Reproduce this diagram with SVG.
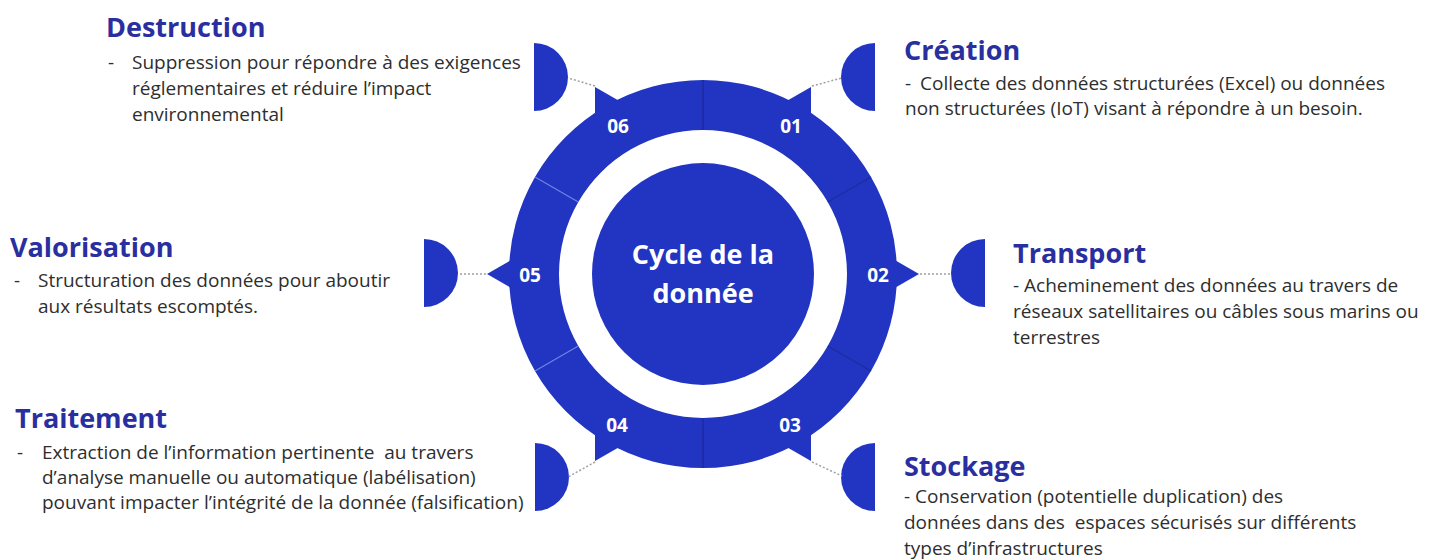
<svg xmlns="http://www.w3.org/2000/svg" width="1435" height="560" viewBox="0 0 1435 560">
  <style>
    .blue { fill: #2135c2; }
    .num { font-family: "Open Sans", "Liberation Sans", sans-serif; font-weight: 700; font-size: 19px; fill: #ffffff; text-anchor: middle; }
    .core { font-family: "Open Sans", "Liberation Sans", sans-serif; font-weight: 700; font-size: 27px; fill: #ffffff; text-anchor: middle; }
    .head { font-family: "Open Sans", "Liberation Sans", sans-serif; font-weight: 700; font-size: 27px; fill: #2a2f9f; }
    .body { font-family: "Open Sans", "Liberation Sans", sans-serif; font-size: 19px; fill: #2e2e2e; }
    .dots { stroke: #a0a0a0; stroke-width: 1.5; stroke-dasharray: 2 2; fill: none; }
    .div-dark { stroke: #1b2898; stroke-width: 1.2; }
    .div-light { stroke: #6f7ee0; stroke-width: 1.2; }
  </style>

  <rect width="1435" height="560" fill="#ffffff"/>

  <!-- central disc -->
  <g id="core">
    <circle cx="703" cy="274" r="111" class="blue"/>
    <text class="core" x="703" y="264">Cycle de la</text>
    <text class="core" x="703" y="303">donnée</text>
  </g>

  <!-- 01 Création -->
  <g id="stage-01">
    <path class="blue" d="M703,80 A194,194 0 0,1 871.01,177 L827.71,202 A144,144 0 0,0 703,130 Z"/>
    <polygon class="blue" points="811,86.9 811,133.1 771,109.9"/>
    <text class="num" x="791" y="133">01</text>
    <path class="blue" d="M875,43 A34,34 0 0,0 875,111 Z"/>
    <text class="head" x="904" y="60">Création</text>
    <text class="body" x="905" y="90">-</text>
    <text class="body" x="920" y="90">Collecte des données structurées (Excel) ou données</text>
    <text class="body" x="905" y="115">non structurées (IoT) visant à répondre à un besoin.</text>
  </g>

  <!-- 02 Transport -->
  <g id="stage-02">
    <path class="blue" d="M871.01,177 A194,194 0 0,1 871.01,371 L827.71,346 A144,144 0 0,0 827.71,202 Z"/>
    <polygon class="blue" points="919,274 879,297.1 879,250.9"/>
    <text class="num" x="878" y="282">02</text>
    <path class="blue" d="M985,239 A34,34 0 0,0 985,307 Z"/>
    <text class="head" x="1013" y="263">Transport</text>
    <text class="body" x="1013" y="292">- Acheminement des données au travers de</text>
    <text class="body" x="1013" y="318">réseaux satellitaires ou câbles sous marins ou</text>
    <text class="body" x="1013" y="344">terrestres</text>
  </g>

  <!-- 03 Stockage -->
  <g id="stage-03">
    <path class="blue" d="M871.01,371 A194,194 0 0,1 703,468 L703,418 A144,144 0 0,0 827.71,346 Z"/>
    <polygon class="blue" points="811,461.1 811,415 771,438.1"/>
    <text class="num" x="790" y="432">03</text>
    <path class="blue" d="M875,443 A34,34 0 0,0 875,511 Z"/>
    <text class="head" x="904" y="476">Stockage</text>
    <text class="body" x="904" y="503">- Conservation (potentielle duplication) des</text>
    <text class="body" x="904" y="529">données dans des&#160; espaces sécurisés sur différents</text>
    <text class="body" x="904" y="555">types d’infrastructures</text>
  </g>

  <!-- 04 Traitement -->
  <g id="stage-04">
    <path class="blue" d="M703,468 A194,194 0 0,1 534.99,371 L578.29,346 A144,144 0 0,0 703,418 Z"/>
    <polygon class="blue" points="595,461.1 635,438.1 595,415"/>
    <text class="num" x="617" y="432">04</text>
    <path class="blue" d="M535,443 A34,34 0 0,1 535,511 Z"/>
    <text class="head" x="15" y="428">Traitement</text>
    <text class="body" x="17" y="459">-</text>
    <text class="body" x="42" y="459">Extraction de l’information pertinente&#160; au travers</text>
    <text class="body" x="42" y="484">d’analyse manuelle ou automatique (labélisation)</text>
    <text class="body" x="42" y="509">pouvant impacter l’intégrité de la donnée (falsification)</text>
  </g>

  <!-- 05 Valorisation -->
  <g id="stage-05">
    <path class="blue" d="M534.99,371 A194,194 0 0,1 534.99,177 L578.29,202 A144,144 0 0,0 578.29,346 Z"/>
    <polygon class="blue" points="487,274 527,250.9 527,297.1"/>
    <text class="num" x="530" y="282">05</text>
    <path class="blue" d="M424,239 A34,34 0 0,1 424,307 Z"/>
    <text class="head" x="10" y="257">Valorisation</text>
    <text class="body" x="14" y="287">-</text>
    <text class="body" x="38" y="287">Structuration des données pour aboutir</text>
    <text class="body" x="38" y="313">aux résultats escomptés.</text>
  </g>

  <!-- 06 Destruction -->
  <g id="stage-06">
    <path class="blue" d="M534.99,177 A194,194 0 0,1 703,80 L703,130 A144,144 0 0,0 578.29,202 Z"/>
    <polygon class="blue" points="595,86.9 635,109.9 595,133.1"/>
    <text class="num" x="618" y="133">06</text>
    <path class="blue" d="M534,43 A34,34 0 0,1 534,111 Z"/>
    <text class="head" x="106" y="37">Destruction</text>
    <text class="body" x="108" y="69">-</text>
    <text class="body" x="132" y="69">Suppression pour répondre à des exigences</text>
    <text class="body" x="132" y="95">réglementaires et réduire l’impact</text>
    <text class="body" x="132" y="121">environnemental</text>
  </g>

  <!-- seams between ring segments -->
  <g id="seams">
    <line class="div-dark" x1="703" y1="80" x2="703" y2="130"/>
    <line class="div-dark" x1="703" y1="418" x2="703" y2="468"/>
    <line class="div-dark" x1="871.01" y1="177" x2="827.71" y2="202"/>
    <line class="div-dark" x1="871.01" y1="371" x2="827.71" y2="346"/>
    <line class="div-light" x1="534.99" y1="177" x2="578.29" y2="202"/>
    <line class="div-light" x1="534.99" y1="371" x2="578.29" y2="346"/>
  </g>

  <!-- dotted links from pointers to half-discs -->
  <g id="connectors">
    <line class="dots" x1="812" y1="86" x2="842" y2="78"/>
    <line class="dots" x1="920" y1="274" x2="951" y2="274"/>
    <line class="dots" x1="812" y1="462" x2="842" y2="476"/>
    <line class="dots" x1="595" y1="462" x2="568" y2="477"/>
    <line class="dots" x1="486" y1="274" x2="458" y2="274"/>
    <line class="dots" x1="595" y1="86" x2="568" y2="78"/>
  </g>
</svg>
